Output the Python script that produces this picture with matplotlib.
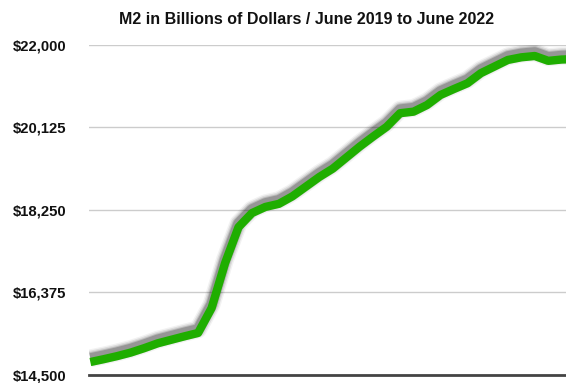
import matplotlib
matplotlib.use("Agg")
import matplotlib.pyplot as plt
import matplotlib.patheffects as pe

title = "M2 in Billions of Dollars / June 2019 to June 2022"
months = list(range(37))  # June 2019 .. June 2022
m2 = [14795, 14860, 14930, 15010, 15110, 15220, 15300, 15380, 15455,
      16020, 17040, 17860, 18180, 18320, 18390, 18560, 18780, 19000,
      19190, 19440, 19690, 19920, 20140, 20450, 20485, 20636, 20864,
      21000, 21130, 21360, 21510, 21660, 21720, 21750, 21640, 21670, 21680]
yticks = [14500, 16375, 18250, 20125, 22000]
ytick_labels = ["$14,500", "$16,375", "$18,250", "$20,125", "$22,000"]

W, H = 566, 383
fig = plt.figure(figsize=(W / 100, H / 100), dpi=100)
ax = fig.add_axes([89 / W, 8 / H, (W - 89) / W, (375 - 45) / H])

shadow = []
for lw, a in [(13, 0.05), (11, 0.09), (9, 0.14), (7.5, 0.2)]:
    shadow.append(pe.Stroke(linewidth=lw, foreground="#000000", alpha=a, offset=(0, 2.6)))
shadow.append(pe.Normal())

ax.plot(months, m2, color="#1fae00", linewidth=6.0, solid_capstyle="butt",
        solid_joinstyle="round", path_effects=shadow, zorder=3)

ax.set_xlim(-0.1, 35.32)
ax.set_ylim(14500, 22000)
ax.set_yticks(yticks)
ax.set_yticklabels(ytick_labels, fontfamily="Liberation Sans", fontweight="bold",
                   fontsize=10.7, color="#111111")
ax.tick_params(axis="y", length=0, pad=16.5)
ax.set_xticks([])
for s in ["top", "right", "left"]:
    ax.spines[s].set_visible(False)
ax.spines["bottom"].set_color("#444444")
ax.spines["bottom"].set_linewidth(2)
ax.spines["bottom"].set_zorder(4)
ax.grid(axis="y", color="#cccccc", linewidth=1)
ax.set_axisbelow(True)

fig.text(306.5 / W, 1 - 19 / H, title, ha="center", va="center",
         fontfamily="Liberation Sans", fontweight="bold", fontsize=11.5, color="#111111")

fig.savefig("out.png", dpi=100)
